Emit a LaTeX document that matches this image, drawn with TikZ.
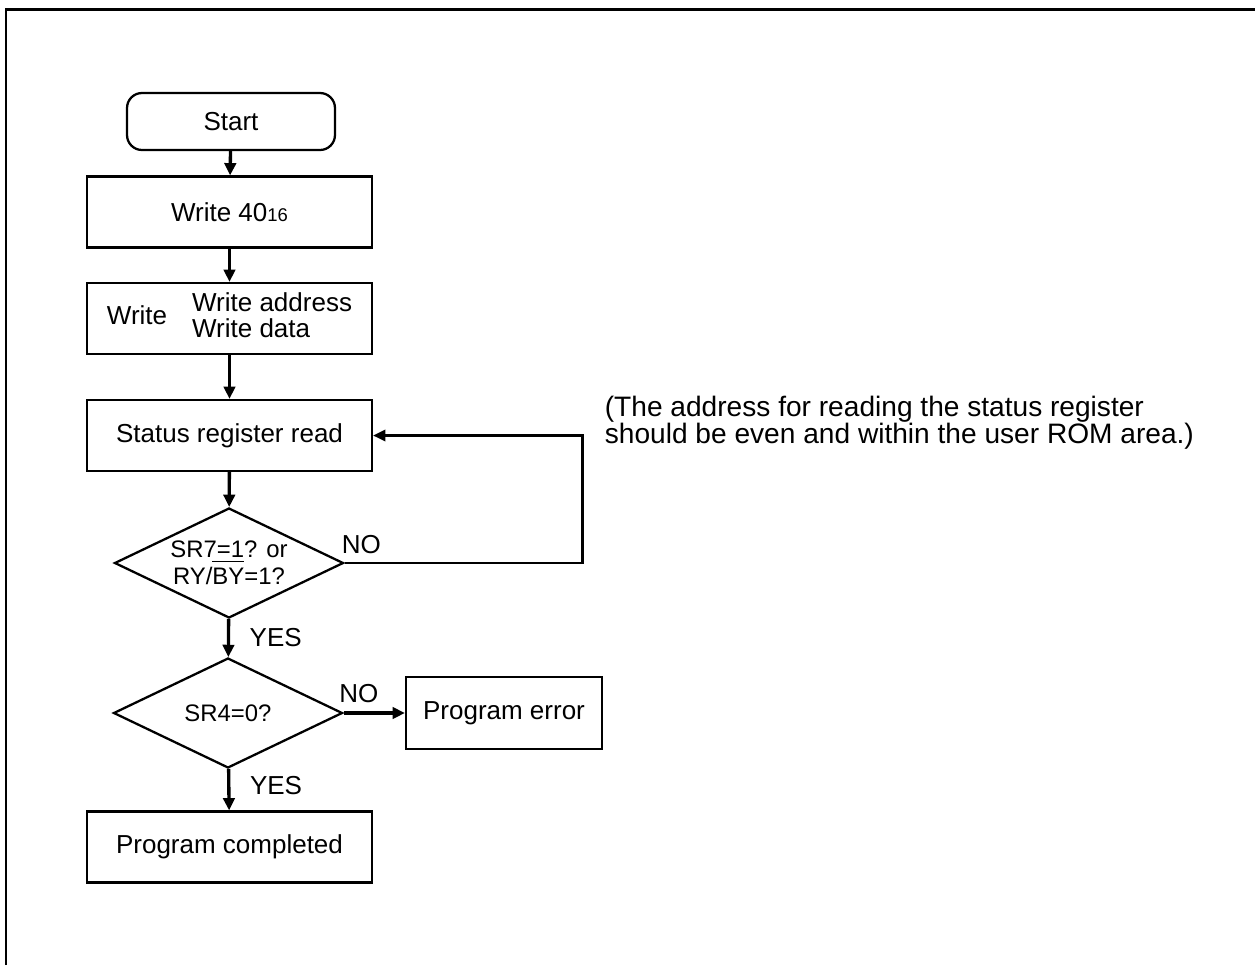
\documentclass[tikz,border=0pt]{standalone}
\usepackage{fontspec}
\setmainfont{Liberation Sans}
\usetikzlibrary{arrows.meta,shapes.geometric}
\newlength\barwd
\newcommand{\highbar}[1]{\settowidth{\barwd}{#1}\rlap{\rule[0.95em]{\barwd}{0.6pt}}#1}
\tikzset{
  flowstart/.style={draw, line width=1.3pt, rounded corners=0.3cm, minimum width=4.16cm, minimum height=1.14cm, font=\fontsize{14.8}{17}\selectfont},
  flowbox/.style={draw, line width=1.3pt, minimum width=5.7cm, minimum height=1.42cm, inner sep=0pt, font=\fontsize{14.8}{13.6}\selectfont},
  flowtest/.style={diamond, draw, line width=1.3pt, shape aspect=2.08, minimum width=4.58cm, minimum height=2.2cm, inner sep=0pt, align=center, font=\fontsize{13.6}{15.3}\selectfont},
  flowedge/.style={-{Triangle[length=7pt,width=6.5pt]}, line width=1.9pt},
  loopedge/.style={-{Triangle[length=7pt,width=6.5pt]}, line width=1.3pt},
  answer/.style={font=\fontsize{14.8}{17}\selectfont, inner sep=2pt}
}

\begin{document}
\begin{tikzpicture}[x=0.02cm, y=-0.02cm]
  \useasboundingbox (0,0) rectangle (1255,965);
  \draw[line width=1.7pt] (6,965) -- (6,9) -- (1255,9);

  \node[flowstart] (start) at (231,121.5) {Start};
  \node[flowbox] (w40) at (229.5,212) {Write 40{\fontsize{10.5}{12}\selectfont 16}};
  \node[flowbox] (wr) at (229.5,318.5) {Write\hspace{0.5cm}\begin{tabular}{@{}l@{}}Write address\\Write data\end{tabular}};
  \node[flowbox] (status) at (229.5,435.5) {Status register read};
  \node[flowtest] (d1) at (229,563) {SR7=1? or\\RY/\highbar{BY}=1?};
  \node[flowtest] (d2) at (228,713) {SR4=0?};
  \node[flowbox] (done) at (229.5,847) {Program completed};
  \node[flowbox, minimum width=3.92cm, minimum height=1.44cm] (error) at (504,713) {Program error};
  \node[answer, anchor=west, align=left, font=\fontsize{16}{15.5}\selectfont] (note) at (601,423)
    {(The address for reading the status register\\should be even and within the user ROM area.)};

  \draw[flowedge] (start) -- (w40);
  \draw[flowedge] (w40) -- (wr);
  \draw[flowedge] (wr) -- (status);
  \draw[flowedge] (status) -- (d1);
  \draw[flowedge] (d1) -- node[answer, right, xshift=0.32cm] {YES} (d2);
  \draw[flowedge] (d2) -- node[answer, right, xshift=0.32cm, yshift=0.08cm] {YES} (done);
  \draw[flowedge] (d2) -- node[answer, above, pos=0.25, yshift=0.1cm] {NO} (error);
  \draw[loopedge] (d1.east) -- ++(238,0) |- (status.east);
  \node[answer, anchor=south west, inner sep=0pt, xshift=-0.06cm, yshift=0.18cm] (noloop) at (d1.east) {NO};
\end{tikzpicture}
\end{document}
